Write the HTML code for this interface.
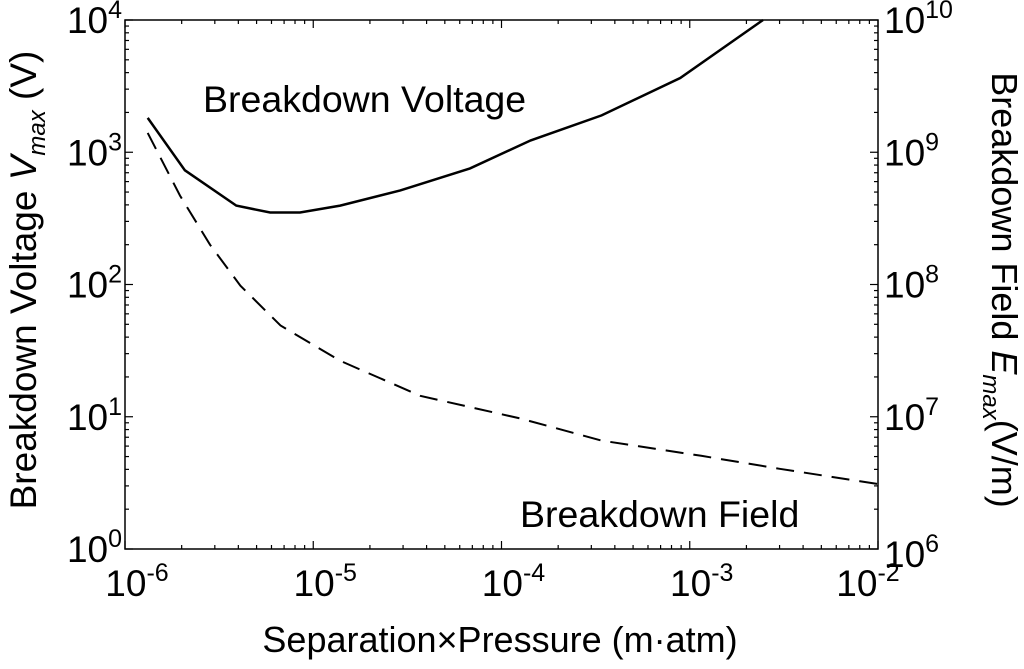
<!DOCTYPE html>
<html><head><meta charset="utf-8"><style>
body{margin:0;background:#fff;}
svg{display:block;font-family:"Liberation Sans",sans-serif;}
</style></head><body>
<svg id="chart" width="1024" height="669" xmlns="http://www.w3.org/2000/svg">
<rect x="125" y="20" width="753" height="529" fill="none" stroke="#000" stroke-width="1.5"/>
<g id="ticks"></g>
<g id="labels" font-size="37" fill="#000"></g>
<text x="203" y="112" font-size="37.5">Breakdown Voltage</text>
<text x="520" y="527" font-size="37.5">Breakdown Field</text>
<text transform="translate(36,280) rotate(-90)" text-anchor="middle" font-size="37">Breakdown Voltage <tspan font-style="italic">V</tspan><tspan font-style="italic" font-size="24" dy="9">max</tspan><tspan dy="-9"> (V)</tspan></text>
<text transform="translate(992,290) rotate(90)" text-anchor="middle" font-size="36">Breakdown Field <tspan font-style="italic">E</tspan><tspan font-style="italic" font-size="24" dy="9">max</tspan><tspan dy="-9">(V/m)</tspan></text>
<text x="500" y="652" text-anchor="middle" font-size="36">Separation×Pressure (m·atm)</text>
<path id="vline" fill="none" stroke="#000" stroke-width="2.5"/>
<path id="fline" fill="none" stroke="#000" stroke-width="2" stroke-dasharray="18,10"/>
</svg>
<script>
const xTicks=[-6,-5,-4,-3,-2];
const yLeftTicks=[0,1,2,3,4];
const yRightTicks=[6,7,8,9,10];
const vX=[1.32e-6,2.08e-6,3.9e-6,5.9e-6,8.5e-6,1.39e-5,2.9e-5,6.8e-5,1.43e-4,3.4e-4,8.9e-4,2.45e-3];
const vY=[1820,730,395,350,350,395,515,755,1230,1900,3640,10000];
const fX=[1.32e-6,1.96e-6,2.83e-6,4.1e-6,6.7e-6,1.39e-5,3.7e-5,1.26e-4,3.4e-4,1.15e-3,3.0e-3,1e-2];
const fY=[1.4e9,4.7e8,2e8,9.8e7,4.9e7,2.65e7,1.44e7,9.7e6,6.6e6,5.07e6,4.04e6,3.1e6];
const X0=125,X1=878,Y0=549,Y1=20;
const sx=v=>X0+(Math.log10(v)+6)/4*(X1-X0);
const syL=v=>Y0-Math.log10(v)/4*(Y0-Y1);
const syR=v=>Y0-(Math.log10(v)-6)/4*(Y0-Y1);
const NS="http://www.w3.org/2000/svg";
const tk=document.getElementById('ticks'),lb=document.getElementById('labels');
function line(x1,y1,x2,y2){const l=document.createElementNS(NS,'line');l.setAttribute('x1',x1);l.setAttribute('y1',y1);l.setAttribute('x2',x2);l.setAttribute('y2',y2);l.setAttribute('stroke','#000');l.setAttribute('stroke-width','1.2');


tk.appendChild(l);}
function lab(x,y,e,anchor,name){const t=document.createElementNS(NS,'text');t.setAttribute('x',x);t.setAttribute('y',y);t.setAttribute('text-anchor',anchor);t.innerHTML='10<tspan font-size="25" dy="-15">'+e+'</tspan>';


lb.appendChild(t);}
xTicks.forEach((e,i)=>{const x=sx(Math.pow(10,e));line(x,Y0,x,Y0-8);line(x,Y1,x,Y1+8);
if(i<xTicks.length-1)for(let m=2;m<10;m++){const xm=sx(m*Math.pow(10,e));line(xm,Y0,xm,Y0-4);line(xm,Y1,xm,Y1+4);}
lab(x+(i==xTicks.length-1?-10:12),596,e,'middle','x-tick-label');});
yLeftTicks.forEach((e,i)=>{const y=syL(Math.pow(10,e));line(X0,y,X0+8,y);
if(i<4)for(let m=2;m<10;m++){const ym=syL(m*Math.pow(10,e));line(X0,ym,X0+4,ym);}
lab(122,y+13,e,'end','y-left-tick-label');});
yRightTicks.forEach((e,i)=>{const y=syR(Math.pow(10,e));line(X1,y,X1-8,y);
if(i<4)for(let m=2;m<10;m++){const ym=syR(m*Math.pow(10,e));line(X1,ym,X1-4,ym);}
lab(884,y+(i==0?18:13),e,'start','y-right-tick-label');});
document.getElementById('vline').setAttribute('d',vX.map((x,i)=>(i?'L':'M')+sx(x).toFixed(1)+','+syL(vY[i]).toFixed(1)).join(''));
document.getElementById('fline').setAttribute('d',fX.map((x,i)=>(i?'L':'M')+sx(x).toFixed(1)+','+syR(fY[i]).toFixed(1)).join(''));
</script>
</body></html>
